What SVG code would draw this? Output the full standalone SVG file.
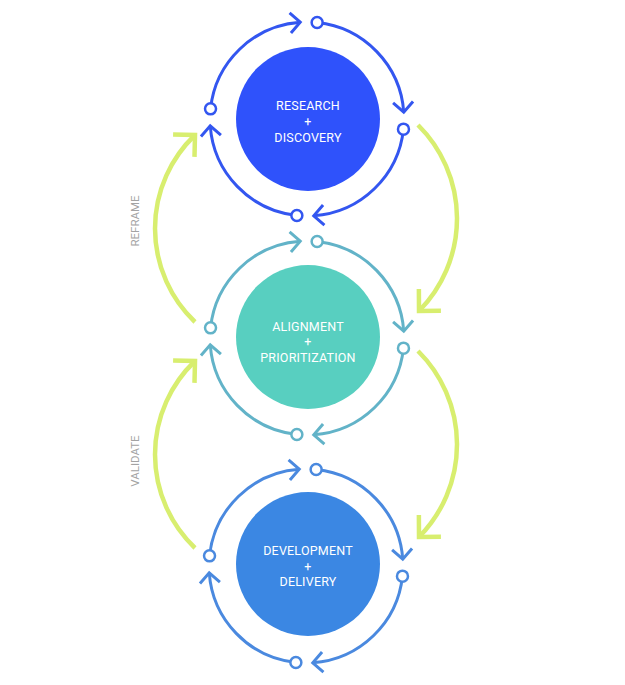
<svg xmlns="http://www.w3.org/2000/svg" width="625" height="685" viewBox="0 0 625 685">
<defs>
<style>
.core{stroke:none}
.lbl{font-family:Roboto,"Liberation Sans",sans-serif;font-size:12.5px;font-weight:400;letter-spacing:0.2px;fill:#ffffff;text-anchor:middle}
.side{font-family:Roboto,"Liberation Sans",sans-serif;font-size:11.5px;font-weight:400;fill:#a3a3a3;text-anchor:middle}
.ring{fill:none;stroke-width:3}
.dot{fill:#ffffff;stroke-width:2.5}
.g{fill:none;stroke:#d8ee6f;stroke-width:4.5}
.r1{stroke:#3356f0}
.r2{stroke:#62b3c8}
.r3{stroke:#4a89df}
</style>
<marker id="m1" markerUnits="userSpaceOnUse" viewBox="-20 -20 40 40" markerWidth="40" markerHeight="40" refX="0" refY="0" orient="auto" overflow="visible"><path d="M-10,-10 L0,0 L-10,10" fill="none" stroke="#3356f0" stroke-width="3"/></marker>
<marker id="m2" markerUnits="userSpaceOnUse" viewBox="-20 -20 40 40" markerWidth="40" markerHeight="40" refX="0" refY="0" orient="auto" overflow="visible"><path d="M-10,-10 L0,0 L-10,10" fill="none" stroke="#62b3c8" stroke-width="3"/></marker>
<marker id="m3" markerUnits="userSpaceOnUse" viewBox="-20 -20 40 40" markerWidth="40" markerHeight="40" refX="0" refY="0" orient="auto" overflow="visible"><path d="M-10,-10 L0,0 L-10,10" fill="none" stroke="#4a89df" stroke-width="3"/></marker>
<marker id="mg" markerUnits="userSpaceOnUse" viewBox="-30 -30 60 60" markerWidth="60" markerHeight="60" refX="0" refY="0" orient="auto" overflow="visible"><path d="M-15.5,-15.5 L0,0 L-15.5,15.5" fill="none" stroke="#d8ee6f" stroke-width="4.5"/></marker>
</defs>
<rect width="625" height="685" fill="#ffffff"/>

<g id="connectors">
<g id="ring1-arcs" class="ring r1" marker-end="url(#m1)">
<path d="M317.14,22.53 A97,97 0 0 1 403.76,112.23"/>
<path d="M403.47,129.14 A97,97 0 0 1 313.77,215.76"/>
<path d="M296.86,215.47 A97,97 0 0 1 210.24,125.77"/>
<path d="M210.53,108.86 A97,97 0 0 1 300.23,22.24"/>
</g>
<g id="ring2-arcs" class="ring r2" marker-end="url(#m2)">
<path d="M317.14,241.53 A97,97 0 0 1 403.76,331.23"/>
<path d="M403.47,348.14 A97,97 0 0 1 313.77,434.76"/>
<path d="M296.86,434.47 A97,97 0 0 1 210.24,344.77"/>
<path d="M210.53,327.86 A97,97 0 0 1 300.23,241.24"/>
</g>
<g id="ring3-arcs" class="ring r3" marker-end="url(#m3)">
<path d="M316.14,469.53 A97,97 0 0 1 402.76,559.23"/>
<path d="M402.47,576.14 A97,97 0 0 1 312.77,662.76"/>
<path d="M295.86,662.47 A97,97 0 0 1 209.24,572.77"/>
<path d="M209.53,555.86 A97,97 0 0 1 299.23,469.24"/>
</g>
<g id="green-arrows" class="g" marker-end="url(#mg)">
<path d="M195,322 A129.3,129.3 0 0 1 195,135"/>
<path d="M418,125 A131.6,131.6 0 0 1 419,311"/>
<path d="M195,548 A129.3,129.3 0 0 1 195,361"/>
<path d="M418,351 A131.6,131.6 0 0 1 419,537"/>
</g>
</g>

<g id="ring1-dots" class="dot r1">
<circle cx="317.14" cy="22.53" r="5.5"/>
<circle cx="403.47" cy="129.14" r="5.5"/>
<circle cx="296.86" cy="215.47" r="5.5"/>
<circle cx="210.53" cy="108.86" r="5.5"/>
</g>
<g id="ring2-dots" class="dot r2">
<circle cx="317.14" cy="241.53" r="5.5"/>
<circle cx="403.47" cy="348.14" r="5.5"/>
<circle cx="296.86" cy="434.47" r="5.5"/>
<circle cx="210.53" cy="327.86" r="5.5"/>
</g>
<g id="ring3-dots" class="dot r3">
<circle cx="316.14" cy="469.53" r="5.5"/>
<circle cx="402.47" cy="576.14" r="5.5"/>
<circle cx="295.86" cy="662.47" r="5.5"/>
<circle cx="209.53" cy="555.86" r="5.5"/>
</g>

<g id="research-discovery">
<circle class="core" cx="308" cy="119" r="72" fill="#2f52fb"/>
<text class="lbl" x="308" y="110">RESEARCH</text>
<text class="lbl" x="308" y="126">+</text>
<text class="lbl" x="308" y="141.5">DISCOVERY</text>
</g>
<g id="alignment-prioritization">
<circle class="core" cx="308" cy="337" r="72" fill="#58cfc0"/>
<text class="lbl" x="308" y="330.5">ALIGNMENT</text>
<text class="lbl" x="308" y="346">+</text>
<text class="lbl" x="308" y="361.5">PRIORITIZATION</text>
</g>
<g id="development-delivery">
<circle class="core" cx="308" cy="564" r="72" fill="#3b87e3"/>
<text class="lbl" x="308" y="555">DEVELOPMENT</text>
<text class="lbl" x="308" y="570.5">+</text>
<text class="lbl" x="308" y="585.5">DELIVERY</text>
</g>

<g id="labels">
<text class="side" transform="translate(138.5,221) rotate(-90)">REFRAME</text>
<text class="side" transform="translate(138.5,461) rotate(-90)">VALIDATE</text>
</g>
</svg>
